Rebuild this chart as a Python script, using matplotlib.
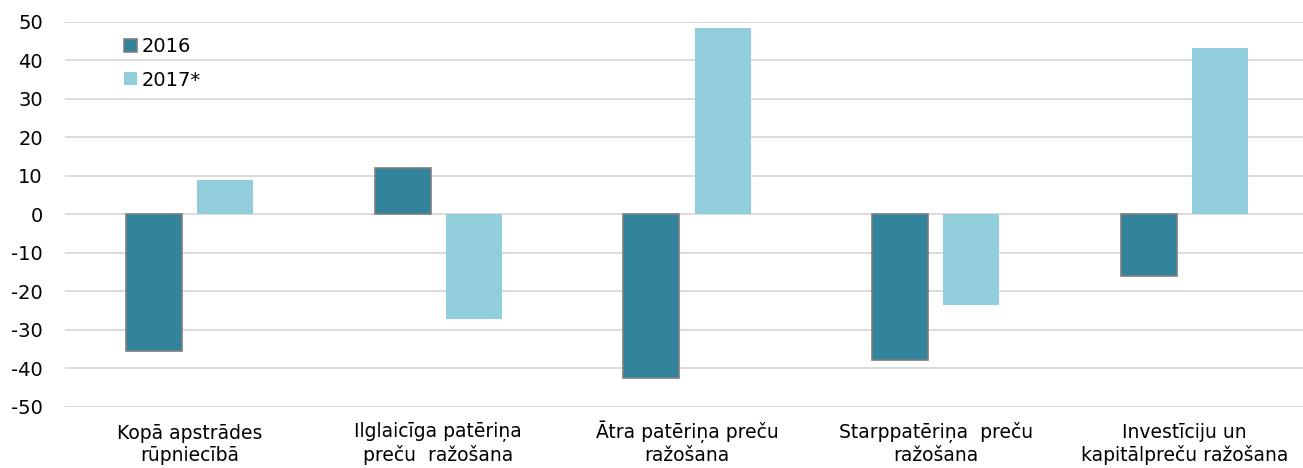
import numpy as np
import matplotlib.pyplot as plt

# Categorie e valori
categorie = ['Kopā apstrādes\nrūpniecībā', 'Ilglaicīga patēriņa\npreču  ražošana',
             'Ātra patēriņa preču\nražošana', 'Starppatēriņa  preču\nražošana',
             'Investīciju un\nkapitālpreču ražošana']
val_2016 = [-35.6, 11.9, -42.6, -37.9, -16.1]
val_2017 = [8.8, -27.2, 48.4, -23.6, 43.2]
yticks = list(range(-50, 51, 10))

fig = plt.figure(figsize=(13.03, 4.68), dpi=100)
# l'area del grafico continua un po' oltre il bordo destro
ax = fig.add_axes([65 / 1303, 61.5 / 468, 1244 / 1303, 384.8 / 468])

x = np.arange(len(categorie))
w = 0.225
off = 0.143
ax.bar(x - off, val_2016, w, color='#31849B', edgecolor='#7F7F7F', linewidth=1.2, label='2016', zorder=3)
ax.bar(x + off, val_2017, w, color='#92CDDC', label='2017*', zorder=3)

ax.set_xlim(-0.5, len(categorie) - 0.5)
ax.set_ylim(-50, 50)
ax.set_yticks(yticks)
ax.set_yticklabels([str(v) for v in yticks])
ax.grid(axis='y', color='#D9D9D9', linewidth=1.3, zorder=0)
ax.set_xticks(x)
ax.set_xticklabels([])
ax.tick_params(axis='both', length=0)
ax.tick_params(axis='y', labelsize=14, pad=16)
for s in ax.spines.values():
    s.set_visible(False)

# etichette dell'asse x allineate sulla linea di base (la Ā alza il riquadro)
for i, lab in enumerate(categorie):
    ax.annotate(lab, xy=(x[i], 0), xycoords=('data', 'axes fraction'),
                xytext=(0, -39.3), textcoords='offset points',
                ha='center', va='baseline', fontsize=13.5, linespacing=1.2,
                multialignment='center', annotation_clip=False)

ax.legend(loc='upper left', bbox_to_anchor=(0.038, 0.99), frameon=False, fontsize=14,
          handlelength=0.65, handleheight=0.65, handletextpad=0.25, labelspacing=0.75,
          borderaxespad=0.2)

plt.savefig('out.png', dpi=100)
